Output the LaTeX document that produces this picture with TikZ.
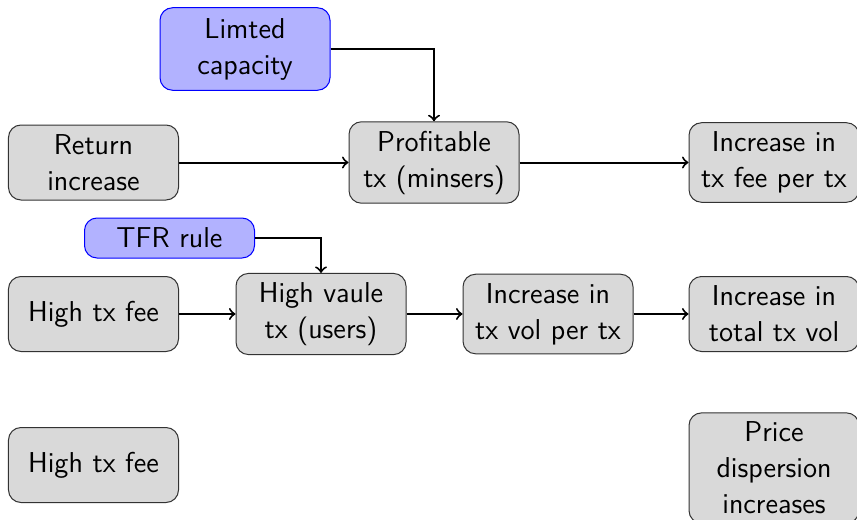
\documentclass[tikz,border=0pt]{standalone}
\usetikzlibrary{arrows}

\tikzset{
	greybox/.style={draw=black!80, fill=black!15, rounded corners=5pt, align=center, text width=60pt, minimum width=68pt, minimum height=30pt, inner xsep=2pt, inner ysep=3.6pt, font=\sffamily\fontsize{11.5}{14.4}\selectfont},
	bluebox/.style={greybox, draw=blue, fill=blue!30, minimum height=16pt, inner ysep=2pt},
	link/.style={->, thick}
}

\begin{document}
\begin{tikzpicture}[x=0.4pt,y=0.4pt,yscale=-1,xscale=1]
	%set diagram size to the reference
	\useasboundingbox (0,0) rectangle (857,519);

	% Top row
	\node [bluebox, minimum height=33pt] (limcap) at (245,49) {Limted capacity};
	% Text Node
	\node [greybox] (retinc) at (93.5,162.5) {Return increase};
	% Text Node
	\node [greybox] (profit) at (434,162.5) {Profitable tx (minsers)};
	% Text Node
	\node [greybox] (feeinc) at (774,162.5) {Increase in tx fee per tx};

	% Middle row
	\node [bluebox] (tfr) at (169.5,238) {TFR rule};
	% Text Node
	\node [greybox] (hifee) at (93.5,314) {High tx fee};
	% Text Node
	\node [greybox] (hival) at (321,314) {High vaule tx (users)};
	% Text Node
	\node [greybox] (volinc) at (548,314) {Increase in tx vol per tx};
	% Text Node
	\node [greybox] (totinc) at (774,314) {Increase in total tx vol};

	% Bottom row
	\node [greybox] (hifeeb) at (93.5,465) {High tx fee};
	% Text Node
	\node [greybox] (disp) at (774,468) {Price dispersion increases};

	% Links
	\draw [link] (limcap.east) -| (profit.north);
	\draw [link] (retinc) -- (profit);
	\draw [link] (profit) -- (feeinc);
	\draw [link] (tfr.east) -| (hival.north);
	\draw [link] (hifee) -- (hival);
	\draw [link] (hival) -- (volinc);
	\draw [link] (volinc) -- (totinc);
\end{tikzpicture}
\end{document}
